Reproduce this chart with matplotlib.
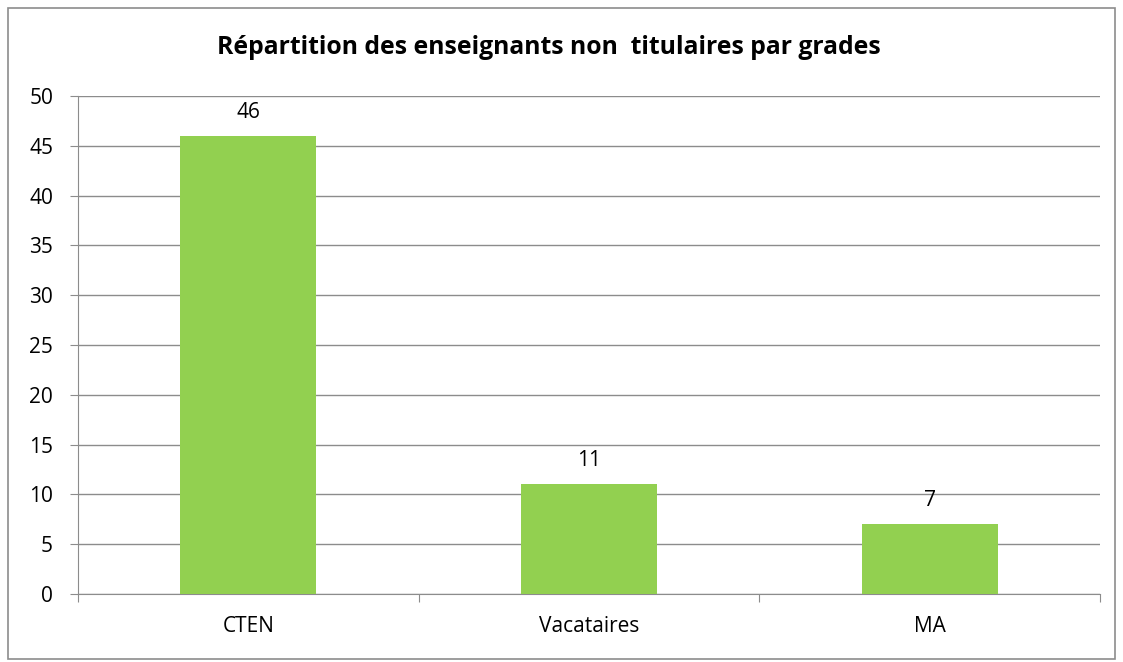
import matplotlib.pyplot as plt
from matplotlib.patches import Rectangle

plt.rcParams['font.family'] = ['Open Sans', 'DejaVu Sans']

categories = ["CTEN", "Vacataires", "MA"]
values = [46, 11, 7]
yticks = [0, 5, 10, 15, 20, 25, 30, 35, 40, 45, 50]

fig = plt.figure(figsize=(11.23, 6.62), dpi=100)
ax = fig.add_axes([0.0695, 0.1027, 0.91, 0.7523])

x = range(len(categories))
ax.bar(x, values, width=0.4, color='#92d050', zorder=3)
for i, v in enumerate(values):
    ax.text(i, v + 1.3, str(v), ha='center', va='bottom', fontsize=15, color='black')

ax.set_xlim(-0.5, len(categories) - 0.5)
ax.set_ylim(0, 50)
ax.set_yticks(yticks)
ax.set_yticklabels([str(t) for t in yticks], fontsize=15)
ax.yaxis.grid(True, color='#8c8c8c', linewidth=1, zorder=0)

# category labels centred, ticks on boundaries
ax.set_xticks([i - 0.5 for i in range(len(categories) + 1)])
ax.set_xticklabels([])
ax.set_xticks(list(x), minor=True)
ax.set_xticklabels(categories, minor=True, fontsize=15)
ax.tick_params(axis='x', which='minor', length=0, pad=16)
ax.tick_params(axis='x', which='major', length=6, color='#8c8c8c', direction='out')
ax.tick_params(axis='y', length=6, color='#8c8c8c', pad=12)

for s in ['top', 'right']:
    ax.spines[s].set_visible(False)
ax.spines['left'].set_color('#8c8c8c')
ax.spines['bottom'].set_color('#8c8c8c')

fig.text(0.489, 0.928, "Répartition des enseignants non  titulaires par grades",
         ha='center', va='center', fontsize=17.8, fontweight='bold')

fig.patches.append(Rectangle((0.007, 0.004), 0.986, 0.984, transform=fig.transFigure,
                             fill=False, edgecolor='#8c8c8c', linewidth=1.2))

fig.savefig('out.png', dpi=100)
